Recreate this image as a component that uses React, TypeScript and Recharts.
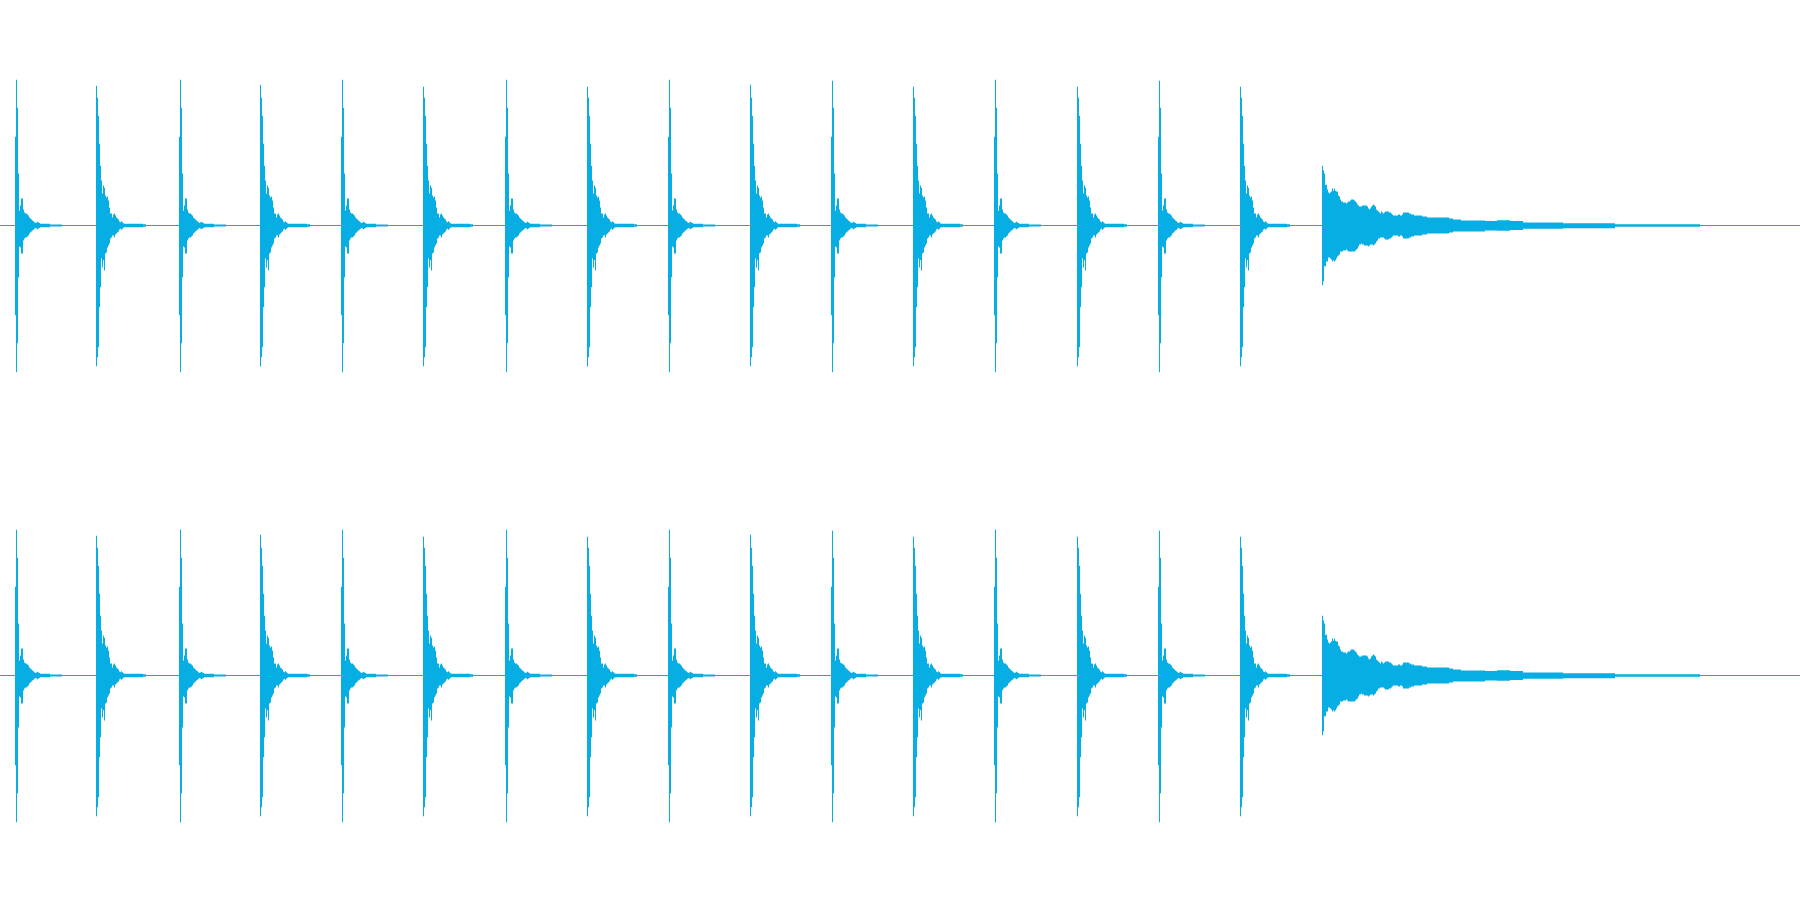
import React from 'react';
import { ComposedChart, Area, XAxis, YAxis, ReferenceLine } from 'recharts';

const WAVE_COLOR = '#06AEE3';
const TOTAL_COLUMNS = 1800;

// Peak positions (time columns) of the two alternating strike types
const hitAPeaks = [16, 180, 342, 506, 669, 832, 995, 1159];
const hitBPeaks = [96, 260, 423, 587, 750, 913, 1077, 1240];
const hitAPeakTop = [0.973, 0.973, 0.973, 0.973, 0.973, 0.967, 0.973, 0.967];
const hitBPeakTop = [0.933, 0.94, 0.927, 0.927, 0.94, 0.927, 0.927, 0.927];

// Strike A envelope (starts one column before the peak)
const hitAStartOffset = -1;
const hitATop = [
  0.593, 0.973, 0.787, 0.347, 0.1, 0.133, 0.18, 0.18, 0.107, 0.087,
  0.08, 0.08, 0.073, 0.067, 0.053, 0.047, 0.04, 0.033, 0.029, 0.022,
  0.017, 0.02, 0.025, 0.02, 0.017,
  0.012, 0.012, 0.012, 0.012, 0.012, 0.012, 0.012, 0.012, 0.012, 0.012,
  0.007, 0.007, 0.007, 0.007, 0.007, 0.007, 0.007, 0.007, 0.007, 0.007, 0.007, 0.007,
];
const hitABottom = [
  0.6, 0.98, 0.787, 0.347, 0.14, 0.147, 0.187, 0.187, 0.1, 0.087,
  0.08, 0.08, 0.073, 0.067, 0.053, 0.047, 0.04, 0.033, 0.029, 0.022,
  0.017, 0.02, 0.025, 0.02, 0.017,
  0.012, 0.012, 0.012, 0.012, 0.012, 0.012, 0.012, 0.012, 0.012, 0.012,
  0.007, 0.007, 0.007, 0.007, 0.007, 0.007, 0.007, 0.007, 0.007, 0.007, 0.007, 0.007,
];

// Strike B envelope (starts at the peak)
const hitBStartOffset = 0;
const hitBTop = [
  0.933, 0.853, 0.733, 0.547, 0.4, 0.3, 0.213, 0.267, 0.253, 0.2,
  0.187, 0.193, 0.167, 0.12, 0.08, 0.08, 0.053, 0.073, 0.08, 0.067,
  0.053, 0.047, 0.04, 0.027, 0.022, 0.029, 0.022, 0.015,
  0.012, 0.012, 0.012, 0.012, 0.012, 0.012, 0.012, 0.012, 0.012, 0.012,
  0.012, 0.012, 0.012, 0.012, 0.012, 0.012, 0.012, 0.012, 0.012,
  0.009, 0.009, 0.009,
];
const hitBBottom = [
  0.94, 0.88, 0.813, 0.547, 0.413, 0.22, 0.28, 0.233, 0.3, 0.187,
  0.18, 0.147, 0.133, 0.12, 0.087, 0.08, 0.067, 0.067, 0.08, 0.06,
  0.053, 0.047, 0.04, 0.027, 0.022, 0.029, 0.022, 0.015,
  0.012, 0.012, 0.012, 0.012, 0.012, 0.012, 0.012, 0.012, 0.012, 0.012,
  0.012, 0.012, 0.012, 0.012, 0.012, 0.012, 0.012, 0.012, 0.012,
  0.009, 0.009, 0.009,
];

// Final sustained tone: per-column envelope, then held steps
const toneStart = 1322;
const toneTop = [
  0.4, 0.367, 0.347, 0.273, 0.273, 0.24, 0.22, 0.213, 0.22, 0.227,
  0.247, 0.233, 0.247, 0.233, 0.227, 0.227, 0.2, 0.193, 0.173, 0.16,
  0.16, 0.153, 0.153, 0.153, 0.147, 0.153, 0.16, 0.16, 0.167, 0.173,
  0.173, 0.173, 0.167, 0.16, 0.153, 0.14, 0.133, 0.127, 0.127, 0.127,
  0.133, 0.133, 0.133, 0.133, 0.133, 0.127, 0.113, 0.107, 0.113, 0.127,
  0.133, 0.14, 0.133, 0.127, 0.107, 0.1, 0.093, 0.087, 0.08, 0.093,
  0.087, 0.08, 0.087, 0.093, 0.093, 0.093, 0.093, 0.087, 0.087, 0.08,
  0.073, 0.067, 0.067, 0.067, 0.067, 0.067, 0.073, 0.073, 0.067, 0.067, 0.073,
];
const toneBottom = [
  0.4, 0.373, 0.273, 0.273, 0.24, 0.24, 0.213, 0.213, 0.22, 0.227,
  0.24, 0.233, 0.24, 0.233, 0.22, 0.207, 0.2, 0.193, 0.173, 0.173,
  0.173, 0.167, 0.167, 0.167, 0.16, 0.167, 0.173, 0.173, 0.173, 0.173,
  0.173, 0.173, 0.173, 0.167, 0.16, 0.153, 0.14, 0.127, 0.127, 0.12,
  0.127, 0.127, 0.133, 0.133, 0.133, 0.133, 0.14, 0.133, 0.127, 0.127,
  0.127, 0.133, 0.127, 0.12, 0.107, 0.1, 0.087, 0.087, 0.08, 0.08,
  0.08, 0.08, 0.087, 0.093, 0.093, 0.093, 0.093, 0.087, 0.087, 0.08,
  0.073, 0.067, 0.067, 0.067, 0.067, 0.067, 0.073, 0.073, 0.067, 0.067, 0.073,
];
// [start column, top, bottom] held until the next entry
const toneTail: [number, number, number][] = [
  [1403, 0.087, 0.087],
  [1409, 0.08, 0.08],
  [1411, 0.073, 0.073],
  [1414, 0.067, 0.067],
  [1422, 0.06, 0.06],
  [1427, 0.053, 0.053],
  [1449, 0.047, 0.047],
  [1453, 0.04, 0.04],
  [1461, 0.033, 0.04],
  [1485, 0.03, 0.033],
  [1497, 0.035, 0.035],
  [1510, 0.03, 0.03],
  [1523, 0.02, 0.022],
  [1563, 0.015, 0.018],
  [1615, 0.009, 0.009],
  [1700, 0, 0],
];

type Pt = { x: number; range: [number, number] };

function buildChannel(): Pt[] {
  const map = new Map<number, [number, number]>();
  const place = (peak: number, startOff: number, top: number[], bottom: number[], peakTop: number) => {
    for (let i = 0; i < top.length; i++) {
      const off = startOff + i;
      const t = off === 0 ? peakTop : top[i];
      map.set(peak + off, [-bottom[i], t]);
    }
    map.set(peak + startOff + top.length, [0, 0]);
  };
  hitAPeaks.forEach((p, i) => place(p, hitAStartOffset, hitATop, hitABottom, hitAPeakTop[i]));
  hitBPeaks.forEach((p, i) => place(p, hitBStartOffset, hitBTop, hitBBottom, hitBPeakTop[i]));
  toneTop.forEach((t, i) => map.set(toneStart + i, [-toneBottom[i], t]));
  toneTail.forEach(([c, t, b]) => map.set(c, [-b, t]));
  if (!map.has(0)) map.set(0, [0, 0]);
  map.set(TOTAL_COLUMNS, [0, 0]);
  return Array.from(map.entries())
    .sort((a, b) => a[0] - b[0])
    .map(([x, range]) => ({ x, range }));
}

const leftChannel = buildChannel();
const rightChannel = buildChannel();

function Channel({ data }: { data: Pt[] }) {
  return (
    <ComposedChart width={1800} height={450} data={data} margin={{ top: 1, right: 0, bottom: 0, left: 0 }}>
      <XAxis type="number" dataKey="x" domain={[0, TOTAL_COLUMNS]} hide allowDataOverflow />
      <YAxis type="number" domain={[-1.5, 1.5]} hide allowDataOverflow />
      <ReferenceLine y={0} stroke={WAVE_COLOR} strokeWidth={1} ifOverflow="extendDomain" />
      <Area
        dataKey="range"
        type="stepAfter"
        fill={WAVE_COLOR}
        fillOpacity={1}
        stroke="none"
        isAnimationActive={false}
        activeDot={false}
      />
    </ComposedChart>
  );
}

export default function App() {
  return (
    <div style={{ position: 'absolute', left: 0, top: 0, width: 1800, height: 900, background: '#ffffff' }}>
      <Channel data={leftChannel} />
      <Channel data={rightChannel} />
    </div>
  );
}
